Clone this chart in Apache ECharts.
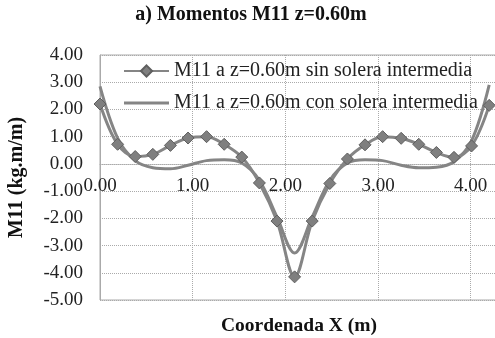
<!DOCTYPE html>
<html>
<head>
<meta charset="utf-8">
<script src="https://cdn.jsdelivr.net/npm/echarts@6/dist/echarts.min.js"></script>
<style>html,body{margin:0;padding:0;background:#fff;}#c{width:495px;height:338px;}</style>
</head>
<body>
<div id="c"></div>
<script>
const xValues = [0, 0.19, 0.38, 0.57, 0.76, 0.95, 1.15, 1.34, 1.53, 1.72, 1.91, 2.10, 2.29, 2.48, 2.67, 2.86, 3.05, 3.25, 3.44, 3.63, 3.82, 4.01, 4.20];
const sinSolera = [2.2, 0.72, 0.27, 0.35, 0.68, 0.95, 1.0, 0.72, 0.25, -0.70, -2.10, -4.15, -2.10, -0.72, 0.18, 0.70, 1.0, 0.94, 0.72, 0.42, 0.24, 0.66, 2.15];
const conSolera = [2.85, 0.95, 0.12, -0.14, -0.18, -0.05, 0.12, 0.15, 0.03, -0.60, -1.95, -3.27, -1.95, -0.60, 0.03, 0.15, 0.12, -0.05, -0.14, -0.12, 0.08, 0.85, 2.9];
const seriesNames = ['M11 a z=0.60m sin solera intermedia', 'M11 a z=0.60m con solera intermedia'];
const titleText = 'a) Momentos M11 z=0.60m';
const xTitle = 'Coordenada X (m)';
const yTitle = 'M11 (kg.m/m)';

const font = 'Liberation Serif, Times New Roman, serif';
const pair = (xs, ys) => xs.map((x, i) => [x, ys[i]]);

// plot geometry
const gridTop = 55, gridBottom = 38, chartH = 338;
const yMin = -5, yMax = 4;
const plotH = chartH - gridTop - gridBottom;
const zeroOffset = -plotH * (0 - yMin) / (yMax - yMin); // move x axis up to y = 0

const chart = echarts.init(document.getElementById('c'), null, {renderer: 'canvas'});
chart.setOption({
  animation: false,
  backgroundColor: '#fff',
  title: [
    {text: titleText, left: 251, top: 5, textAlign: 'center', padding: 0,
     textStyle: {fontFamily: font, fontWeight: 'bold', fontSize: 20, color: '#111'}},
    {text: xTitle, left: 299, top: 316, textAlign: 'center', padding: 0,
     textStyle: {fontFamily: font, fontWeight: 'bold', fontSize: 19.5, color: '#111'}}
  ],
  grid: {left: 100, top: gridTop, right: -22, bottom: gridBottom, show: true, borderColor: '#aaa', borderWidth: 1,
    containLabel: false, outerBoundsMode: 'none'},
  legend: {
    orient: 'vertical', left: 123, top: 61, padding: 0, itemWidth: 45, itemHeight: 14, itemGap: 12,
    textStyle: {fontFamily: font, fontSize: 20, color: '#222'},
    data: [
      {name: seriesNames[0]},
      {name: seriesNames[1], icon: 'path://M0,0 L48,0 L48,3 L0,3 Z'}
    ]
  },
  xAxis: {
    type: 'value', min: 0, max: 4.5, interval: 1,
    offset: zeroOffset,
    axisLine: {show: true, onZero: false, lineStyle: {color: '#aaa', type: 'dotted'}},
    axisTick: {show: false},
    axisLabel: {fontFamily: font, fontSize: 19, color: '#222', margin: 13, showMaxLabel: false,
      formatter: v => v.toFixed(2)},
    splitLine: {show: true, lineStyle: {color: '#aaa', type: 'dotted'}}
  },
  yAxis: {
    type: 'value', min: yMin, max: yMax, interval: 1,
    name: yTitle, nameLocation: 'middle', nameGap: 73, nameRotate: 90,
    nameTextStyle: {fontFamily: font, fontWeight: 'bold', fontSize: 20, color: '#111'},
    axisLine: {show: true, onZero: false, lineStyle: {color: '#aaa'}},
    axisTick: {show: false},
    axisLabel: {fontFamily: font, fontSize: 19, color: '#222', margin: 17,
      formatter: v => v.toFixed(2)},
    splitLine: {show: true, lineStyle: {color: '#aaa', type: 'dotted'}}
  },
  series: [
    {
      name: seriesNames[0], type: 'line', smooth: 0.35,
      data: pair(xValues, sinSolera),
      symbol: 'diamond', symbolSize: 12,
      lineStyle: {color: '#858585', width: 3},
      itemStyle: {color: '#7f7f7f', borderColor: '#5f5f5f', borderWidth: 1},
      z: 3
    },
    {
      name: seriesNames[1], type: 'line', smooth: 0.35,
      data: pair(xValues, conSolera),
      symbol: 'none',
      lineStyle: {color: '#858585', width: 3},
      itemStyle: {color: '#858585'},
      z: 2
    }
  ]
});
</script>
</body>
</html>
